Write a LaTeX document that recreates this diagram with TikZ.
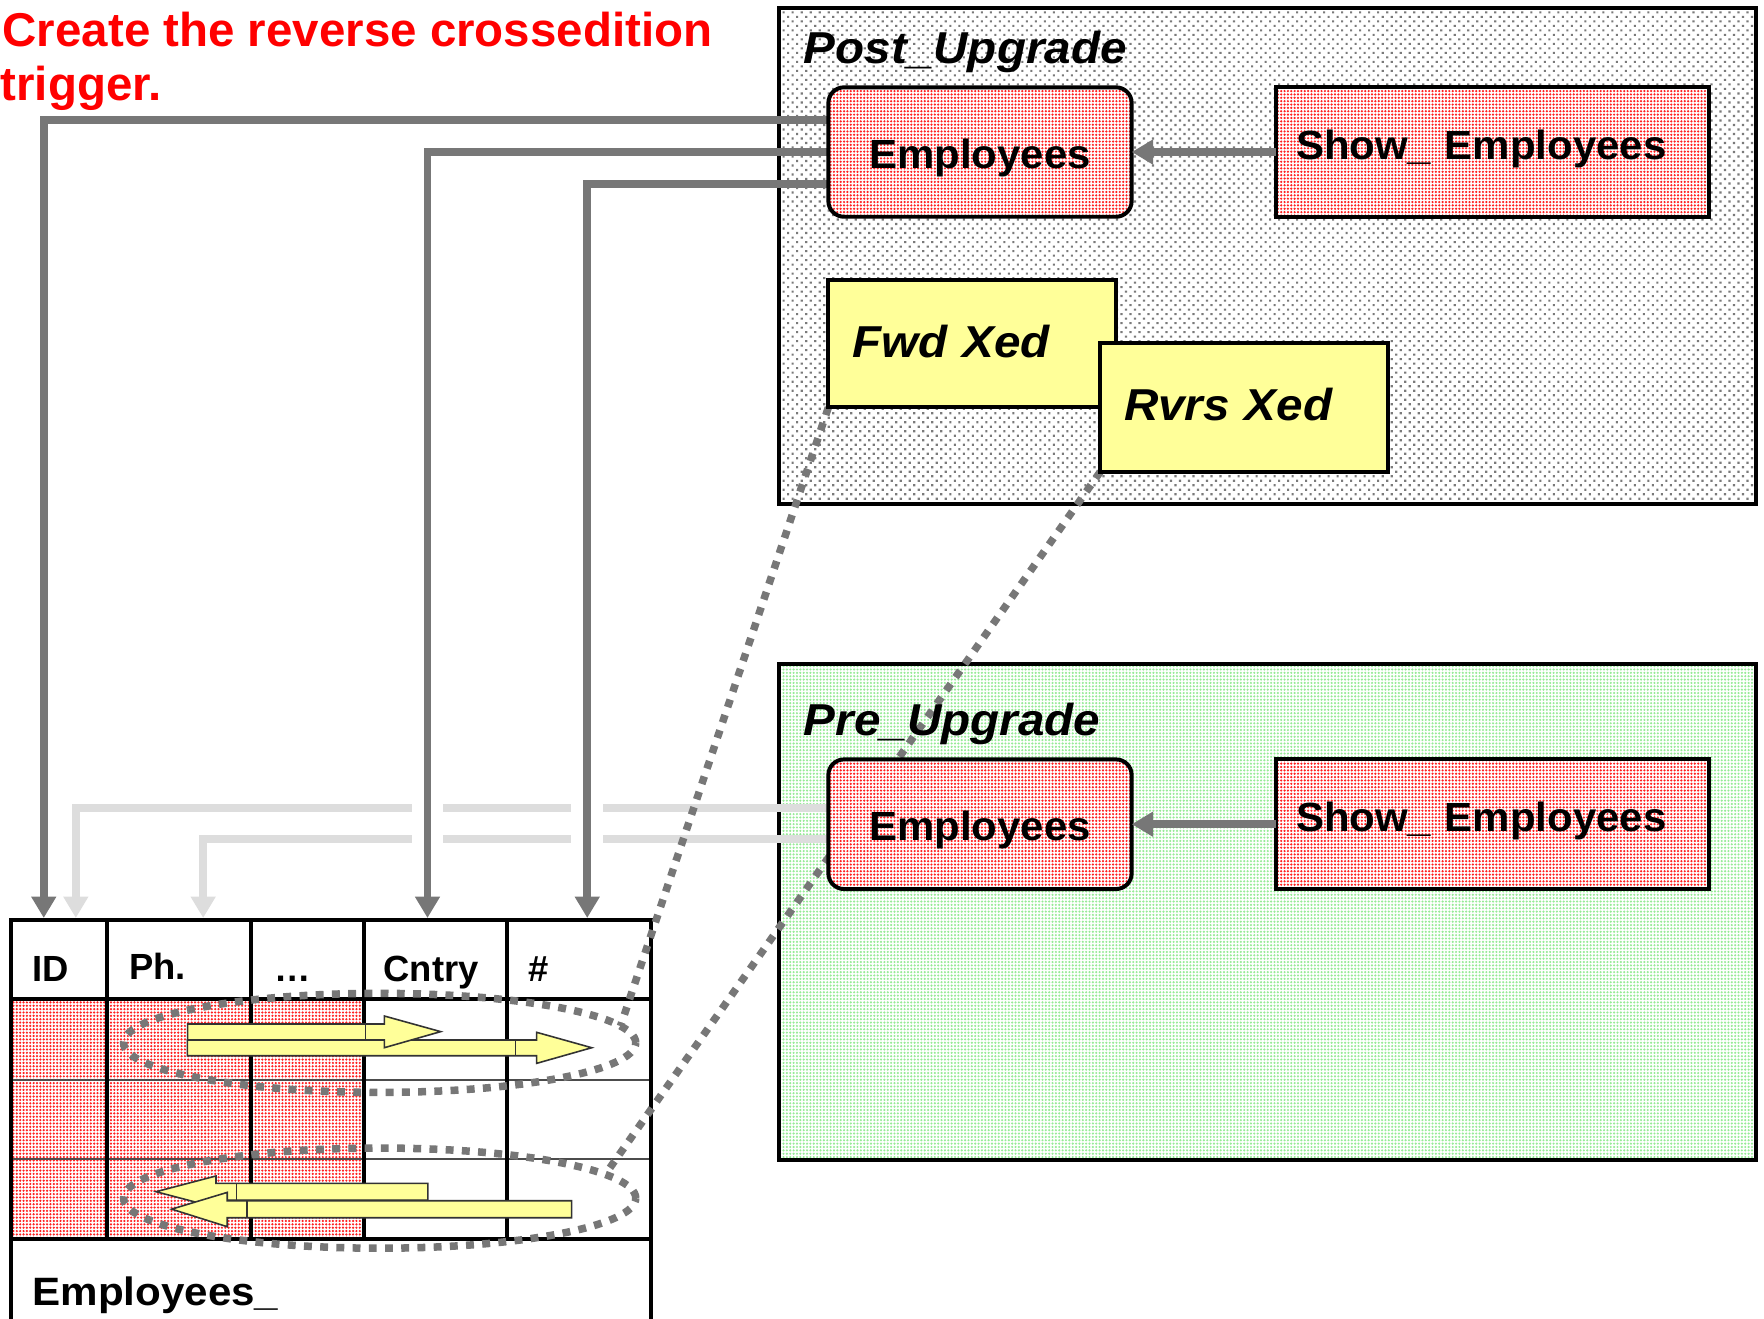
\documentclass[tikz,border=0pt]{standalone}
\usepackage{fontspec}
\setmainfont{Liberation Sans}
\newfontfamily\wideA[FakeStretch=1.03]{Liberation Sans}
\newfontfamily\wideB[FakeStretch=1.065]{Liberation Sans}
\usetikzlibrary{arrows.meta,shapes.geometric,patterns.meta}

\pgfdeclarelayer{back}
\pgfdeclarelayer{mid}
\pgfsetlayers{back,mid,main}

\definecolor{conn}{HTML}{777777}
\definecolor{connlight}{HTML}{DDDDDD}
\definecolor{note}{HTML}{FFFF99}
\definecolor{titlered}{HTML}{FF0000}
\definecolor{dotred}{HTML}{FF2020}
\definecolor{dotgreen}{HTML}{96EB96}
\definecolor{dotgray}{HTML}{7A7A7A}

\tikzset{
  every node/.style={inner sep=0pt, outer sep=0pt},
  redfill/.style={preaction={fill=white}, pattern={Dots[radius=0.31pt,distance=0.85pt]}, pattern color=dotred},
  greenfill/.style={preaction={fill=white}, pattern={Dots[radius=0.3pt,distance=0.85pt]}, pattern color=dotgreen},
  grayfill/.style={preaction={fill=white}, pattern={Dots[radius=0.38pt,distance=1.61pt,angle=45]}, pattern color=dotgray},
  region/.style={draw, line width=1pt, anchor=north west, minimum width=8.676cm},
  boxfont/.style={font=\wideA\fontsize{10.3pt}{12pt}\selectfont\bfseries},
  grpfont/.style={font=\wideB\fontsize{11.3pt}{13pt}\selectfont\bfseries\itshape},
  embox/.style={draw, line width=1pt, rounded corners=0.14cm, anchor=north west, redfill, boxfont,
    minimum width=2.695cm},
  showbox/.style={draw, line width=1pt, anchor=north west, redfill, boxfont,
    text width=3.49cm, align=left, inner xsep=0.18cm},
  notebox/.style={draw, line width=1pt, anchor=north west, fill=note, grpfont,
    minimum width=2.555cm, text width=2.131cm, align=left, inner xsep=0.212cm},
  grplabel/.style={grpfont, anchor=base west},
  titletext/.style={font=\fontsize{12pt}{14pt}\selectfont\bfseries, text=titlered, anchor=base west},
  hdrtext/.style={font=\fontsize{9.2pt}{11pt}\selectfont\bfseries, anchor=base west},
  gridline/.style={line width=1pt, line join=miter},
  rowline/.style={line width=0.45pt, draw=black!70},
  yarrow/.style={fill=note, draw=black!80, line width=0.4pt},
  yseam/.style={draw=black!80, line width=0.4pt},
  darkconn/.style={draw=conn, line width=2pt, -{Triangle[length=5.4pt,width=6pt]}},
  lightconn/.style={draw=connlight, line width=2pt, -{Triangle[length=5.4pt,width=6pt]}},
  knockout/.style={draw=white, line width=0.28cm},
  dotline/.style={draw=conn, line width=1.9pt, dash pattern=on 2pt off 2.1pt},
  looppath/.style={ellipse, dotline, minimum width=4.55cm},
}

\begin{document}
\begin{tikzpicture}[x=0.01cm, y=-0.01cm]
\useasboundingbox (0,0) rectangle (1568,1172);

% ---------- schema regions and table (bottom layer) ----------
\begin{pgfonlayer}{back}
  \node[region, grayfill, minimum height=4.404cm] (post) at (692.4,7) {};
  \node[region, greenfill, minimum height=4.408cm] (pre) at (692.4,590.2) {};

  % table body: first three columns carry data
  \fill[redfill] (9.6,888.3) rectangle (323.8,1101.6);
  \draw[rowline] (9.6,960) -- (579,960) (9.6,1030.5) -- (579,1030.5);
  \draw[gridline] (9.6,1180) -- (9.6,817.8) -- (579,817.8) -- (579,1180);
  \draw[gridline] (9.6,888.3) -- (579,888.3) (9.6,1101.6) -- (579,1101.6);
  \foreach \cx in {95.2,222.8,323.8,451}
    \draw[gridline] (\cx,817.8) -- (\cx,1101.6);

  % forward propagation arrows
  \draw[yarrow] (166.5,924.4) -- (477,924.4) -- (477,917.6) -- (526,931.3)
    -- (477,945.2) -- (477,938.4) -- (166.5,938.4) -- cycle;
  \draw[yseam] (458.4,924.4) -- (458.4,938.4);
  \draw[yarrow] (166.8,910.2) -- (341.6,910.2) -- (341.6,903.1) -- (391.7,917)
    -- (341.6,931.3) -- (341.6,924.4) -- (166.8,924.4) -- cycle;
  \draw[yseam] (325,910.2) -- (325,924.4);
  % reverse propagation arrows
  \draw[yarrow] (138.7,1059.3) -- (192,1045.3) -- (192,1051.9) -- (380.4,1051.9)
    -- (380.4,1066.7) -- (192,1066.7) -- (192,1073.3) -- cycle;
  \draw[yseam] (210.4,1051.9) -- (210.4,1066.7);
  \draw[yarrow] (152.6,1074.8) -- (202,1059.9) -- (202,1067.3) -- (508.1,1067.3)
    -- (508.1,1082.4) -- (202,1082.4) -- (202,1090.4) -- cycle;
  \draw[yseam] (219.8,1067.3) -- (219.8,1082.4);
\end{pgfonlayer}

% ---------- title ----------
\node[titletext] (title1) at (2.4,41.5) {Create the reverse crossedition};
\node[titletext] (title2) at (0.5,88.9) {trigger.};

% ---------- Post_Upgrade edition ----------
\node[grplabel] (postLbl) at (714.6,56.3) {Post\_Upgrade};
\node[embox, minimum height=1.15cm, text height=0.29cm, text depth=0pt]
      (postEmp) at (736.3,77.6) {Employees};
\node[showbox, minimum height=1.15cm, text height=0.26cm, text depth=0.13cm]
      (postShow) at (1134,77.6) {Show\_ Employees};
\node[notebox, minimum height=1.132cm, text height=0.284cm, text depth=0.042cm]
      (fwd) at (736.3,248.9) {Fwd Xed};
\node[notebox, minimum height=1.141cm, text height=0.284cm, text depth=0.051cm]
      (rvrs) at (978,305.2) {Rvrs Xed};

% ---------- Pre_Upgrade edition ----------
\node[grplabel] (preLbl) at (714.6,654.2) {Pre\_Upgrade};
\node[embox, minimum height=1.152cm, text height=0.282cm, text depth=0pt]
      (preEmp) at (736.3,675) {Employees};
\node[showbox, minimum height=1.152cm, text height=0.264cm, text depth=0.13cm]
      (preShow) at (1134,675) {Show\_ Employees};

% ---------- table headings ----------
\node[hdrtext] (hID) at (28.9,872) {ID};
\node[hdrtext] (hPh) at (114.9,871) {Ph.};
\node[hdrtext] (hDots) at (243.6,872) {…};
\node[hdrtext] (hCntry) at (341,872) {Cntry};
\node[hdrtext] (hNum) at (469.5,872) {\#};
\node[font=\wideB\fontsize{10pt}{12pt}\selectfont\bfseries, anchor=base west]
      (tblName) at (28.9,1160) {Employees\_};

% column entry points on the table top
\coordinate (tID) at (38.9,816);
\coordinate (tIDb) at (67.4,816);
\coordinate (tPh) at (180.6,816);
\coordinate (tCntry) at (380,816);
\coordinate (tNum) at (522,816);

% ---------- connectors ----------
\begin{pgfonlayer}{mid}
  \draw[lightconn] ([yshift=0.146cm]preEmp.west) -| (tIDb);
  \draw[lightconn] ([yshift=-0.134cm]preEmp.west) -| (tPh);
  \draw[knockout] (tCntry |- preEmp.north) -- (tCntry |- preEmp.south);
  \draw[knockout] (tNum |- preEmp.north) -- (tNum |- preEmp.south);
  \draw[darkconn] ([yshift=0.284cm]postEmp.west) -| (tID);
  \draw[darkconn] (postEmp.west) -| (tCntry);
  \draw[darkconn] ([yshift=-0.28cm]postEmp.west) -| (tNum);

  \node[looppath, minimum height=0.88cm] (fwdLoop) at (337.5,927) {};
  \node[looppath, minimum height=0.89cm] (rvrsLoop) at (337.5,1065) {};
  \draw[dotline] (fwd.south west) -- (fwdLoop.4);
  \draw[dotline] (rvrs.south west) -- (rvrsLoop.6);
\end{pgfonlayer}

\draw[darkconn] (postShow.west) -- (postEmp.east);
\draw[darkconn] (preShow.west) -- (preEmp.east);
\end{tikzpicture}
\end{document}
